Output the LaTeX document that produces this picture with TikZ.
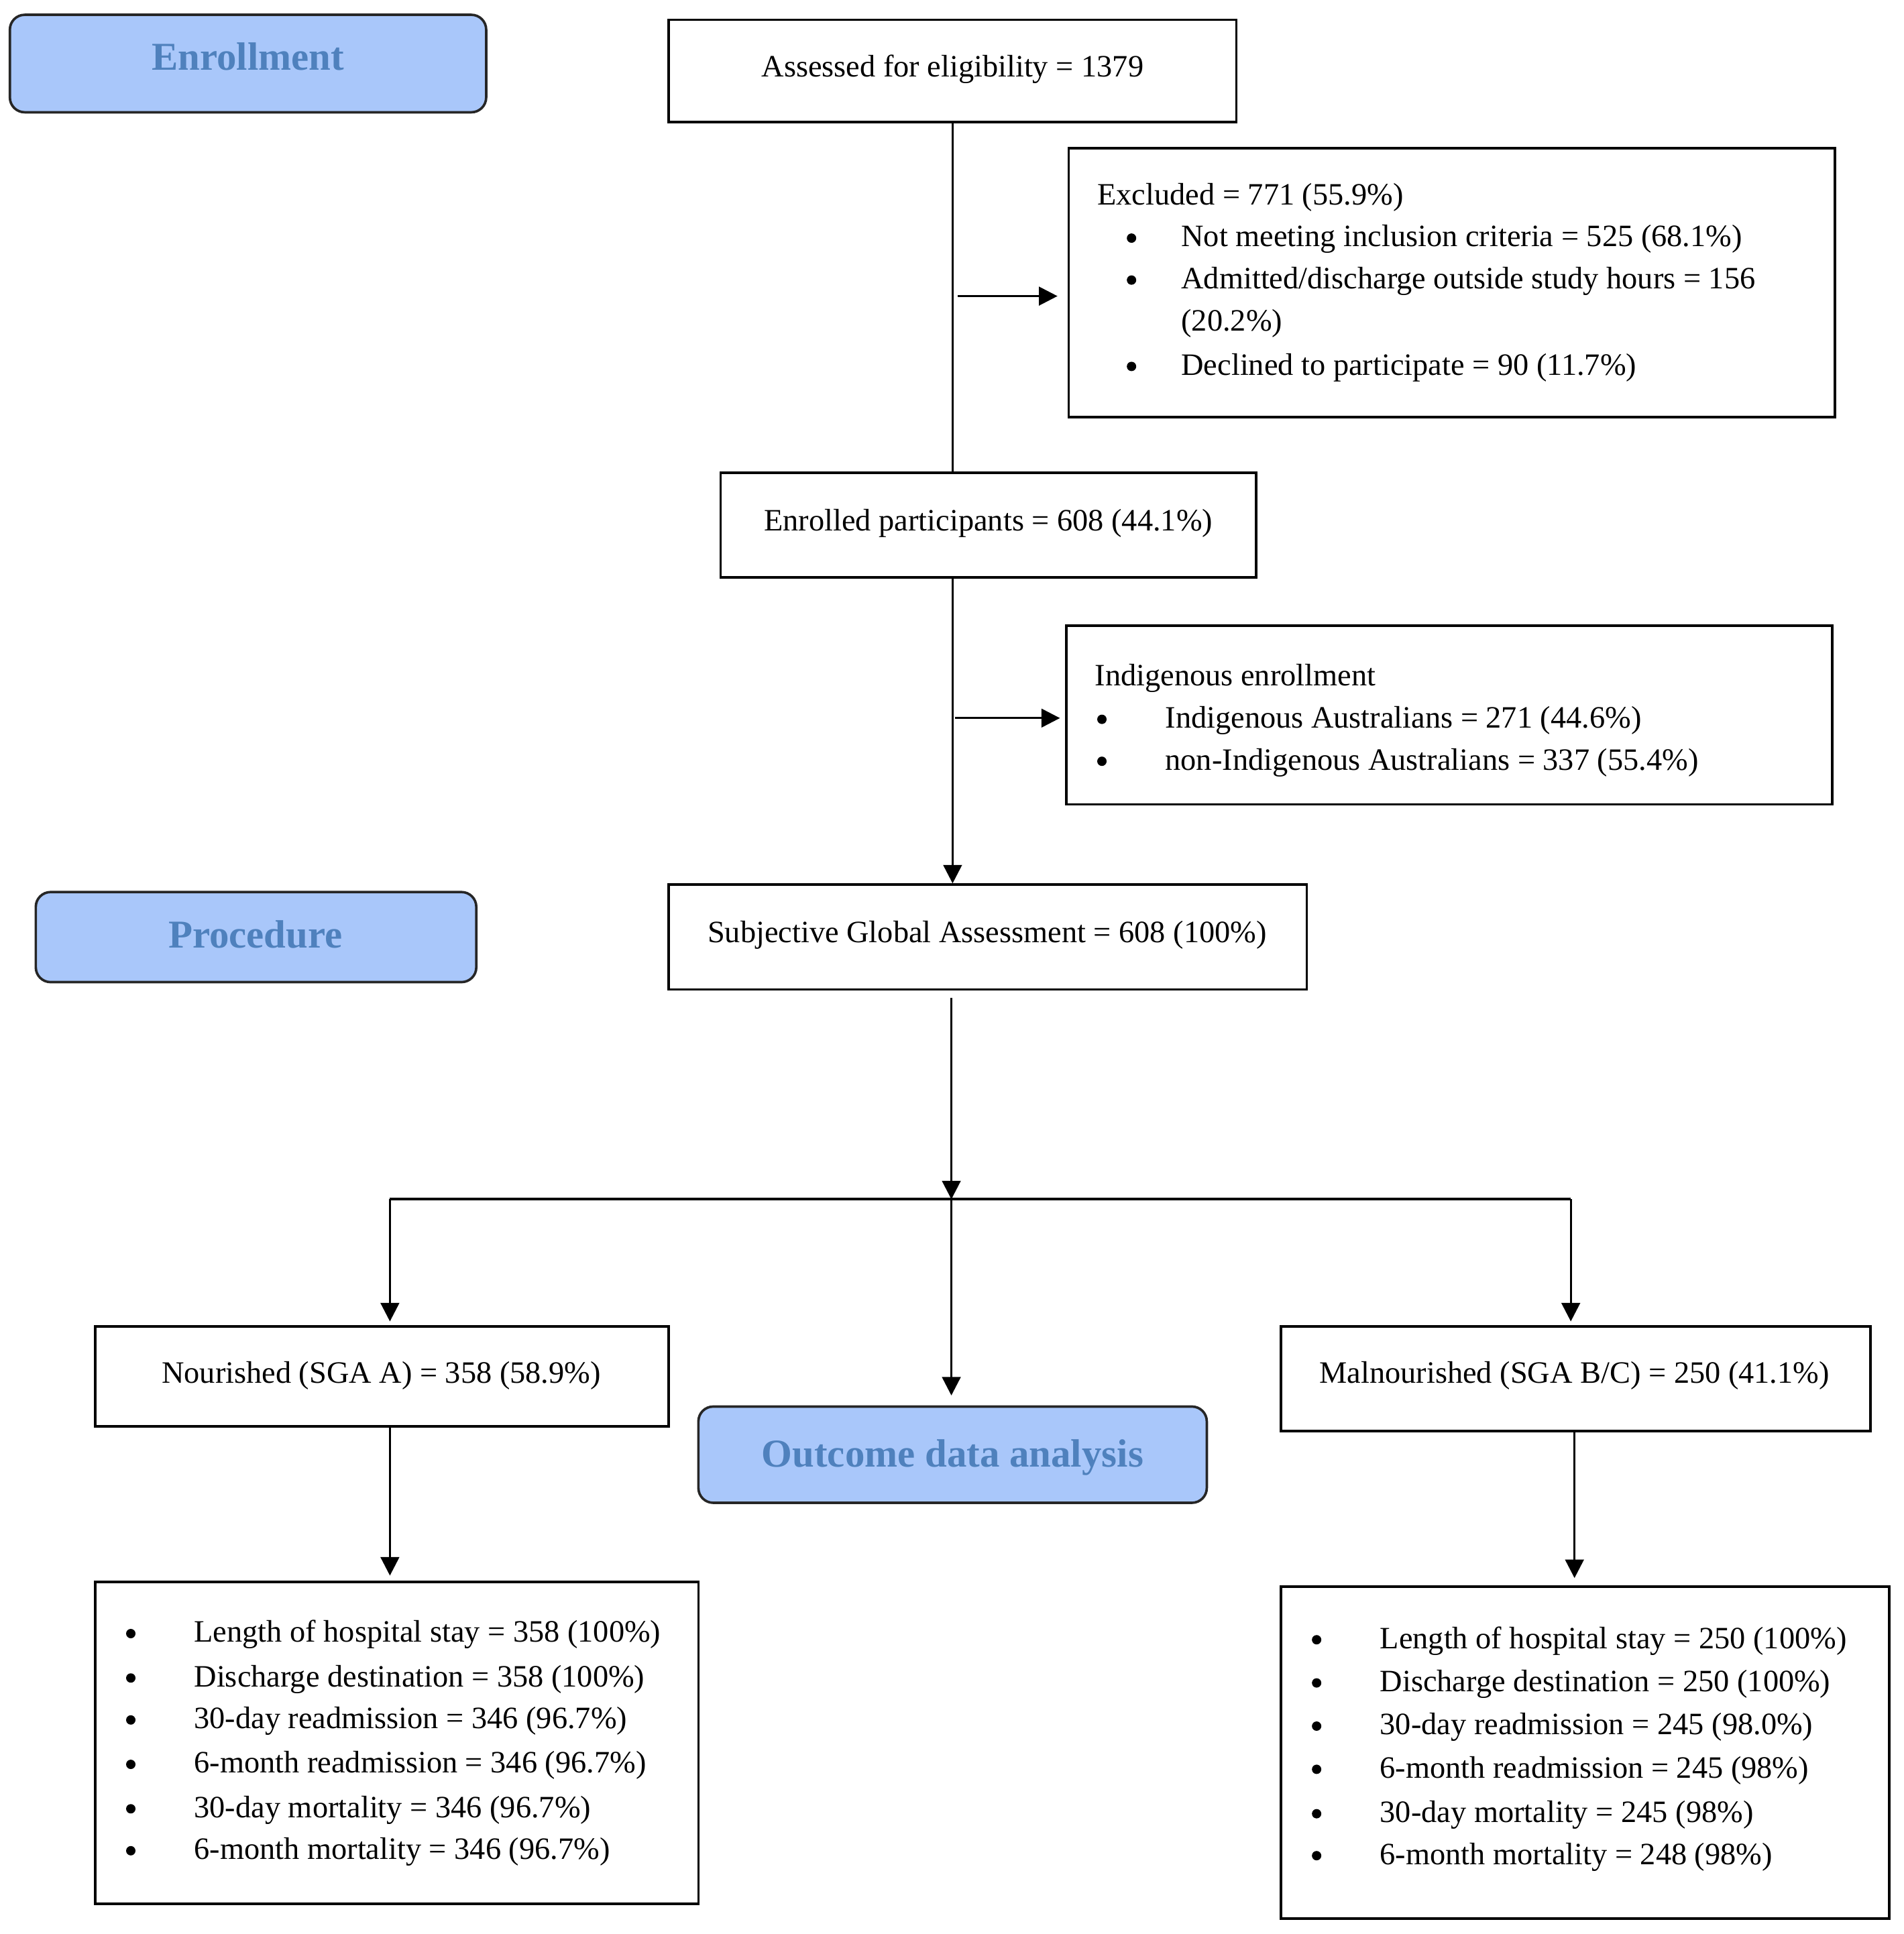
\documentclass[tikz,border=0pt]{standalone}
\usepackage{fontspec}
\setmainfont{Liberation Serif}
\usetikzlibrary{fit,arrows.meta}
\definecolor{hfill}{RGB}{169,199,250}
\definecolor{htext}{RGB}{79,129,189}
\begin{document}
\begin{tikzpicture}[x=0.5pt,y=-0.5pt,
  box/.style={draw=black, line width=1pt, inner sep=0pt},
  hbox/.style={draw=black!85, line width=1pt, rounded corners=6pt, fill=hfill, inner sep=0pt},
  htxt/.style={anchor=base, inner sep=0pt, font=\fontsize{16}{19}\selectfont\bfseries, text=htext},
  txt/.style={anchor=base west, inner sep=0pt, font=\fontsize{12.6}{15}\selectfont},
  ctxt/.style={anchor=base, inner sep=0pt, font=\fontsize{12.6}{15}\selectfont},
  bul/.style={circle, fill=black, inner sep=0pt, minimum size=3.8pt, yshift=3.5pt},
  arr/.style={line width=0.9pt, -{Triangle[length=7.5pt,width=7.5pt]}},
  ln/.style={line width=0.9pt}]
\useasboundingbox (0,0) rectangle (1543,1567.5);

% ---------- heading boxes ----------
\node[hbox, fit={(8,12) (394,91)}] (enrollment) {};
\node[htxt] (enrollmentT) at (201,57) {Enrollment};
\node[hbox, fit={(29,723) (386,796)}] (procedure) {};
\node[htxt] (procedureT) at (207,768) {Procedure};
\node[hbox, fit={(566,1140) (978,1218)}] (outcome) {};
\node[htxt] (outcomeT) at (772,1189) {Outcome data analysis};

% ---------- main boxes ----------
\node[box, fit={(542,16) (1002,99)}] (assess) {};
\node[ctxt] (assessT) at (772,62) {Assessed for eligibility = 1379};

\node[box, fit={(866,120) (1487,338)}] (excl) {};
\node[txt] (ex0) at (889,166) {Excluded = 771 (55.9\%)};
\node[bul] (exb1) at (917,200) {};
\node[txt] (ex1) at (957,200) {Not meeting inclusion criteria = 525 (68.1\%)};
\node[bul] (exb2) at (917,234) {};
\node[txt] (ex2) at (957,234) {Admitted/discharge outside study hours = 156};
\node[txt] (ex2b) at (957,268) {(20.2\%)};
\node[bul] (exb3) at (917,304) {};
\node[txt] (ex3) at (957,304) {Declined to participate = 90 (11.7\%)};

\node[box, fit={(584,383) (1018,468)}] (enrol) {};
\node[ctxt] (enrolT) at (801,430) {Enrolled participants = 608 (44.1\%)};

\node[box, fit={(864,507) (1485,652)}] (indig) {};
\node[txt] (in0) at (887,556) {Indigenous enrollment};
\node[bul] (inb1) at (893,590) {};
\node[txt] (in1) at (944,590) {Indigenous Australians = 271 (44.6\%)};
\node[bul] (inb2) at (893,624) {};
\node[txt] (in2) at (944,624) {non-Indigenous Australians = 337 (55.4\%)};

\node[box, fit={(542,717) (1059,802)}] (sga) {};
\node[ctxt] (sgaT) at (800,764) {Subjective Global Assessment = 608 (100\%)};

\node[box, fit={(77,1075) (542,1156)}] (nour) {};
\node[ctxt] (nourT) at (309,1121) {Nourished (SGA A) = 358 (58.9\%)};

\node[box, fit={(1038,1075) (1516,1160)}] (mal) {};
\node[ctxt] (malT) at (1276,1121) {Malnourished (SGA B/C) = 250 (41.1\%)};

% ---------- outcome lists ----------
\node[box, fit={(77,1282) (566,1543)}] (lres) {};
\node[bul] (lb1) at (106,1331) {};
\node[txt] (l1) at (157,1331) {Length of hospital stay = 358 (100\%)};
\node[bul] (lb2) at (106,1367) {};
\node[txt] (l2) at (157,1367) {Discharge destination = 358 (100\%)};
\node[bul] (lb3) at (106,1401) {};
\node[txt] (l3) at (157,1401) {30-day readmission = 346 (96.7\%)};
\node[bul] (lb4) at (106,1437) {};
\node[txt] (l4) at (157,1437) {6-month readmission = 346 (96.7\%)};
\node[bul] (lb5) at (106,1473) {};
\node[txt] (l5) at (157,1473) {30-day mortality = 346 (96.7\%)};
\node[bul] (lb6) at (106,1507) {};
\node[txt] (l6) at (157,1507) {6-month mortality = 346 (96.7\%)};

\node[box, fit={(1038,1286) (1531,1555)}] (rres) {};
\node[bul] (rb1) at (1067,1336) {};
\node[txt] (r1) at (1118,1336) {Length of hospital stay = 250 (100\%)};
\node[bul] (rb2) at (1067,1371) {};
\node[txt] (r2) at (1118,1371) {Discharge destination = 250 (100\%)};
\node[bul] (rb3) at (1067,1406) {};
\node[txt] (r3) at (1118,1406) {30-day readmission = 245 (98.0\%)};
\node[bul] (rb4) at (1067,1441) {};
\node[txt] (r4) at (1118,1441) {6-month readmission = 245 (98\%)};
\node[bul] (rb5) at (1067,1477) {};
\node[txt] (r5) at (1118,1477) {30-day mortality = 245 (98\%)};
\node[bul] (rb6) at (1067,1511) {};
\node[txt] (r6) at (1118,1511) {6-month mortality = 248 (98\%)};

% ---------- connectors ----------
\draw[ln] (assess.south) -- (assess.south |- enrol.north);
\coordinate (j1) at (776,240);
\draw[arr, shorten >=4pt] (j1) -- (j1 -| excl.west);
\draw[arr] (assess.south |- enrol.south) -- (assess.south |- sga.north);
\coordinate (j2) at (774,582);
\draw[arr, shorten >=2pt] (j2) -- (j2 -| indig.west);

\coordinate (jc) at (771,972);
\coordinate (jl) at (316,972);
\coordinate (jr) at (1273,972);
\draw[arr, shorten <=3pt] (jc |- sga.south) -- (jc);
\draw[line width=1.1pt] (jl) -- (jr);
\draw[arr, shorten >=1.5pt] (jl) -- (jl |- nour.north);
\draw[arr, shorten >=1.5pt] (jr) -- (jr |- mal.north);
\draw[arr, shorten >=4pt] (jc) -- (jc |- outcome.north);

\coordinate (kl) at (316,1156);
\coordinate (kr) at (1276,1160);
\draw[arr, shorten >=2pt] (kl) -- (kl |- lres.north);
\draw[arr, shorten >=3pt] (kr) -- (kr |- rres.north);
\end{tikzpicture}
\end{document}
